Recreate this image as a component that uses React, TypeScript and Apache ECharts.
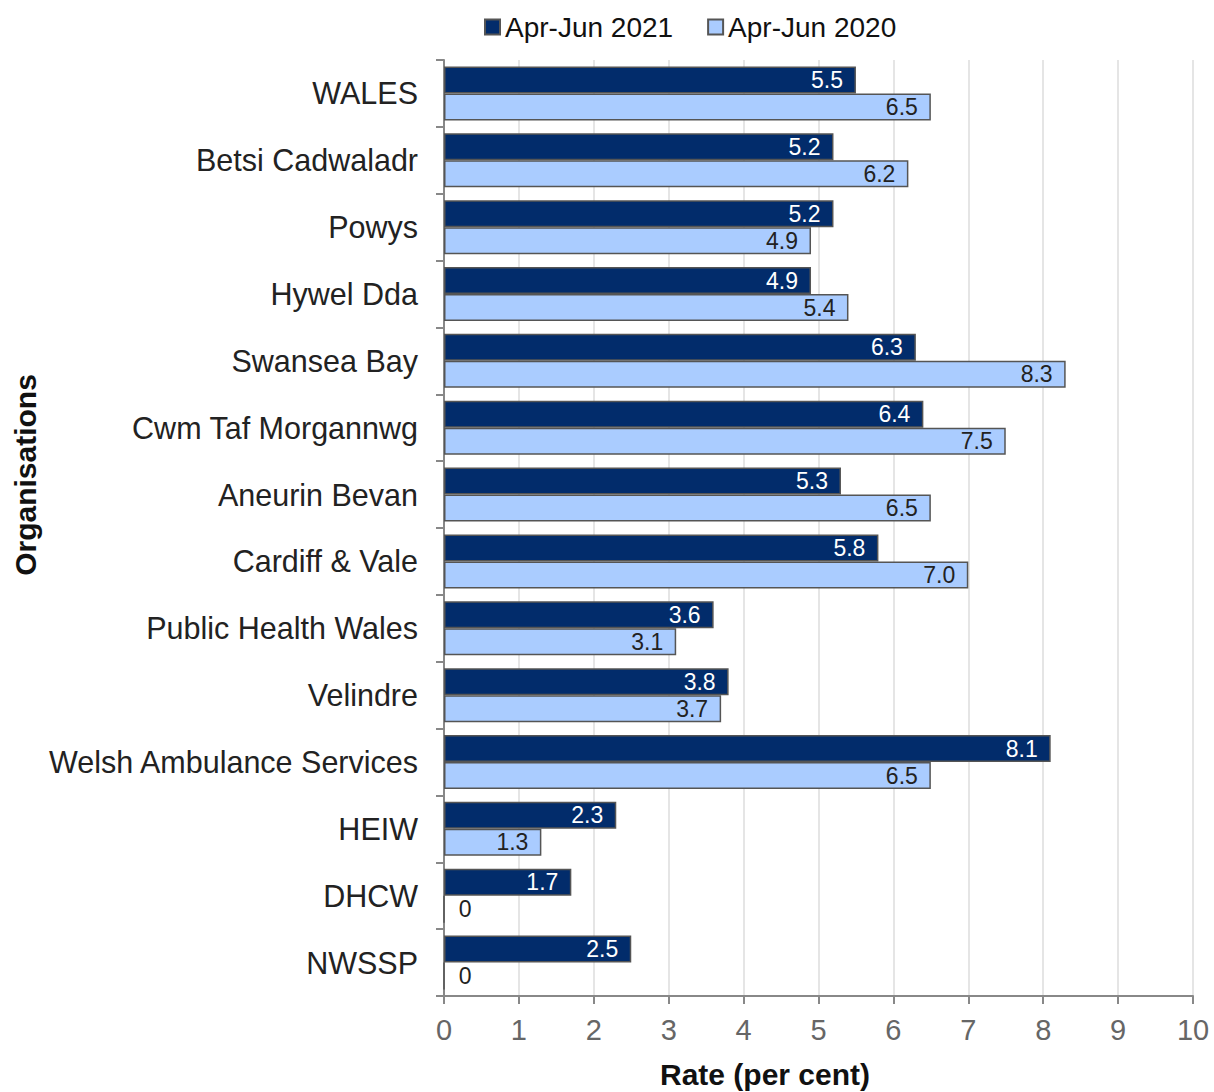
import React, { useEffect, useRef } from "react";
import * as echarts from "echarts";

const categories = [
  "WALES",
  "Betsi Cadwaladr",
  "Powys",
  "Hywel Dda",
  "Swansea Bay",
  "Cwm Taf Morgannwg",
  "Aneurin Bevan",
  "Cardiff & Vale",
  "Public Health Wales",
  "Velindre",
  "Welsh Ambulance Services",
  "HEIW",
  "DHCW",
  "NWSSP",
];
const series2021 = [5.5, 5.2, 5.2, 4.9, 6.3, 6.4, 5.3, 5.8, 3.6, 3.8, 8.1, 2.3, 1.7, 2.5];
const series2020 = [6.5, 6.2, 4.9, 5.4, 8.3, 7.5, 6.5, 7.0, 3.1, 3.7, 6.5, 1.3, 0, 0];
const seriesNames = ["Apr-Jun 2021", "Apr-Jun 2020"];
const xTicks = [0, 10, 1];

const FONT = "'Liberation Sans', Arial, sans-serif";

function fmt(v: number) {
  return v === 0 ? "0" : v.toFixed(1);
}

export default function App() {
  const ref = useRef<HTMLDivElement>(null);
  useEffect(() => {
    document.body.style.margin = "0";
    if (!ref.current) return;
    const chart = echarts.init(ref.current, undefined, { renderer: "svg" });
    const mkData = (arr: number[]) =>
      arr.map((v) =>
        v === 0
          ? { value: v, label: { position: "right", distance: 14, color: "#222" } }
          : { value: v }
      );
    chart.setOption({
      animation: false,
      textStyle: { fontFamily: FONT },
      legend: {
        left: 479,
        top: 8,
        itemWidth: 15,
        itemHeight: 15,
        itemGap: 34,
        icon: "rect",
        textStyle: { fontSize: 28, color: "#111", fontFamily: FONT },
        data: seriesNames,
      },
      grid: { left: 444, right: 21, top: 60, bottom: 96, containLabel: false },
      xAxis: {
        type: "value",
        min: xTicks[0],
        max: xTicks[1],
        interval: xTicks[2],
        axisLine: { show: true, lineStyle: { color: "#888", width: 2 } },
        axisTick: { show: true, length: 8, lineStyle: { color: "#888", width: 2 } },
        axisLabel: { fontSize: 29, color: "#666", margin: 19, fontFamily: FONT },
        splitLine: { show: true, lineStyle: { color: "#ddd", width: 1.5 } },
      },
      yAxis: {
        type: "category",
        inverse: true,
        data: categories,
        axisLine: { show: true, lineStyle: { color: "#888", width: 2 } },
        axisTick: { show: true, length: 8, lineStyle: { color: "#888", width: 2 } },
        axisLabel: { fontSize: 30.5, color: "#222", margin: 26, fontFamily: FONT },
      },
      graphic: [
        {
          type: "text",
          x: 765,
          y: 1074,
          style: {
            text: "Rate (per cent)",
            font: `bold 30px ${FONT}`,
            fill: "#111",
            textAlign: "center",
            textVerticalAlign: "middle",
          },
        },
        {
          type: "text",
          x: 25,
          y: 475,
          rotation: Math.PI / 2,
          style: {
            text: "Organisations",
            font: `bold 30px ${FONT}`,
            fill: "#111",
            textAlign: "center",
            textVerticalAlign: "middle",
          },
        },
      ],
      series: [
        {
          name: seriesNames[0],
          type: "bar",
          barWidth: 27,
          barGap: "0%",
          data: mkData(series2021),
          itemStyle: { color: "#022c6b", borderColor: "#555", borderWidth: 1.5 },
          label: {
            show: true,
            position: "insideRight",
            distance: 13,
            color: "#fff",
            fontSize: 23,
            fontFamily: FONT,
            formatter: (p: any) => fmt(p.value),
          },
        },
        {
          name: seriesNames[1],
          type: "bar",
          barWidth: 27,
          barGap: "0%",
          data: mkData(series2020),
          itemStyle: { color: "#aaccff", borderColor: "#555", borderWidth: 1.5 },
          label: {
            show: true,
            position: "insideRight",
            distance: 13,
            color: "#222",
            fontSize: 23,
            fontFamily: FONT,
            formatter: (p: any) => fmt(p.value),
          },
        },
      ],
    });
    return () => chart.dispose();
  }, []);
  return <div ref={ref} style={{ width: 1214, height: 1092 }} />;
}
